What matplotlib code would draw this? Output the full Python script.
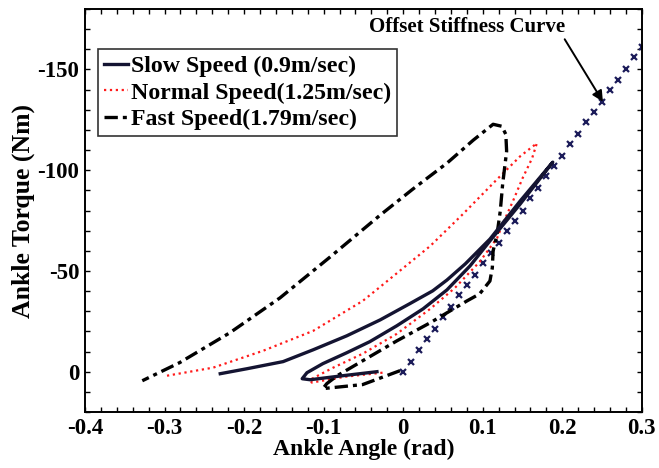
import matplotlib
matplotlib.use("Agg")
import matplotlib.pyplot as plt
from matplotlib.ticker import MultipleLocator

plt.rcParams['font.family'] = ['Liberation Serif', 'DejaVu Serif']
plt.rcParams['font.weight'] = 'bold'

# Slow walking (0.9 m/s): angle (rad), torque (Nm)
slow_angle = [-0.033, -0.076, -0.117, -0.127, -0.121, -0.101, -0.071, -0.042, -0.008,
              0.025, 0.055, 0.084, 0.109, 0.147, 0.188,
              0.147, 0.109, 0.078, 0.055, 0.037, 0.008, -0.029, -0.071, -0.113,
              -0.151, -0.196, -0.230]
slow_torque = [0.0, 2.0, 4.0, 3.5, 0.5, -4.0, -9.4, -14.9, -22.8,
               -31.2, -40.6, -52.5, -64.9, -83.2, -104.0,
               -84.7, -65.8, -53.5, -45.5, -40.1, -33.7, -25.7, -17.8, -10.9,
               -5.0, -1.5, 1.0]

# Normal walking (1.25 m/s)
normal_angle = [-0.026, -0.073, -0.115, -0.117, -0.105, -0.088, -0.051, -0.008, 0.034,
                0.065, 0.096, 0.118, 0.125, 0.138, 0.150, 0.162, 0.168,
                0.147, 0.118, 0.075, 0.034, -0.029, -0.051, -0.113, -0.176,
                -0.239, -0.297]
normal_torque = [0.5, 2.5, 5.4, 4.0, 1.5, -2.0, -8.9, -18.8, -31.2,
                 -41.6, -54.5, -66.3, -73.3, -84.7, -96.0, -105.9, -113.4,
                 -106.9, -95.5, -78.2, -62.4, -42.1, -35.1, -20.3, -10.4,
                 -2.0, 2.0]

# Fast walking (1.79 m/s)
fast_angle = [-0.004, -0.051, -0.101, -0.096, -0.083, -0.051, -0.008, 0.034, 0.080,
              0.096, 0.109, 0.112, 0.113, 0.118, 0.122, 0.125, 0.130, 0.129, 0.124,
              0.113, 0.088, 0.055, 0.012, -0.029, -0.092, -0.155, -0.218, -0.281,
              -0.328]
fast_torque = [-0.5, 6.4, 8.4, 5.9, 2.0, -5.4, -15.3, -24.3, -35.1,
               -38.6, -45.0, -51.5, -59.9, -68.3, -79.7, -93.1, -109.4, -117.8, -121.8,
               -122.8, -114.9, -103.5, -90.6, -77.7, -56.9, -36.6, -19.3, -4.5,
               4.5]

# Offset stiffness curve samples
stiff_angle = [0.00, 0.01, 0.02, 0.03, 0.04, 0.05, 0.06, 0.07, 0.08, 0.09, 0.10,
               0.11, 0.12, 0.13, 0.14, 0.15, 0.16, 0.17, 0.18, 0.19, 0.20,
               0.21, 0.22, 0.23, 0.24, 0.25, 0.26, 0.27, 0.28, 0.29, 0.30]
stiff_torque = [0, -5, -11, -16, -21, -27, -32, -38, -43, -48, -54,
                -59, -64, -70, -75, -80, -86, -91, -97, -102, -107,
                -113, -118, -124, -129, -134, -140, -145, -150, -156, -161]

x_ticks = [-0.4, -0.3, -0.2, -0.1, 0, 0.1, 0.2, 0.3]
x_tick_labels = ['-0.4', '-0.3', '-0.2', '-0.1', '0', '0.1', '0.2', '0.3']
y_ticks = [0, -50, -100, -150]
y_tick_labels = ['0', '-50', '-100', '-150']

fig = plt.figure(figsize=(6.59, 4.68), dpi=100)
ax = fig.add_axes([0.129, 0.1197, 0.845, 0.861])

navy = '#141432'
ax.plot(stiff_angle, stiff_torque, linestyle='none', marker='x', color='#1c1c5a',
        markersize=4.5, markeredgewidth=1.6, zorder=2)
l1, = ax.plot(slow_angle, slow_torque, '-', color=navy, lw=2.4, zorder=4,
              solid_joinstyle='round', label='Slow Speed (0.9m/sec)')
l2, = ax.plot(normal_angle, normal_torque, ':', color='#ff1a1a', lw=1.6, zorder=3,
              label='Normal Speed(1.25m/sec)')
l3, = ax.plot(fast_angle, fast_torque, '-.', color='black', lw=2.4, zorder=3,
              dashes=(4, 1.5, 1.2, 1.5), label='Fast Speed(1.79m/sec)')

ax.set_xlim(-0.4, 0.3)
ax.set_ylim(20, -180)
ax.set_xticks(x_ticks)
ax.set_xticklabels(x_tick_labels)
ax.set_yticks(y_ticks)
ax.set_yticklabels(y_tick_labels)
ax.xaxis.set_minor_locator(MultipleLocator(0.02))
ax.yaxis.set_minor_locator(MultipleLocator(10))
ax.tick_params(which='both', direction='in', top=True, right=True,
               length=3.5, width=1.0, labelsize=16.5, pad=4)
for s in ax.spines.values():
    s.set_linewidth(1.4)

ax.set_xlabel('Ankle Angle (rad)', fontsize=17, fontweight='bold', labelpad=0)
ax.set_ylabel('Ankle Torque (Nm)', fontsize=18.5, fontweight='bold', labelpad=2)

leg = ax.legend(handles=[l1, l2, l3], loc='upper left', bbox_to_anchor=(0.024, 0.9),
                fontsize=17.2, frameon=True, fancybox=False, handlelength=1.0,
                handletextpad=0.1, borderpad=0.25, labelspacing=0.2,
                borderaxespad=0)
leg.get_frame().set_edgecolor('black')
leg.get_frame().set_linewidth(1.2)

ax.text(0.080, -171, 'Offset Stiffness Curve', fontsize=15, fontweight='bold',
        ha='center', va='center')
ax.annotate('', xy=(0.251, -134), xytext=(0.203, -165),
            arrowprops=dict(arrowstyle='-|>', color='black', lw=1.4,
                            mutation_scale=16, shrinkA=0, shrinkB=0))

fig.savefig('out.png', dpi=100)
